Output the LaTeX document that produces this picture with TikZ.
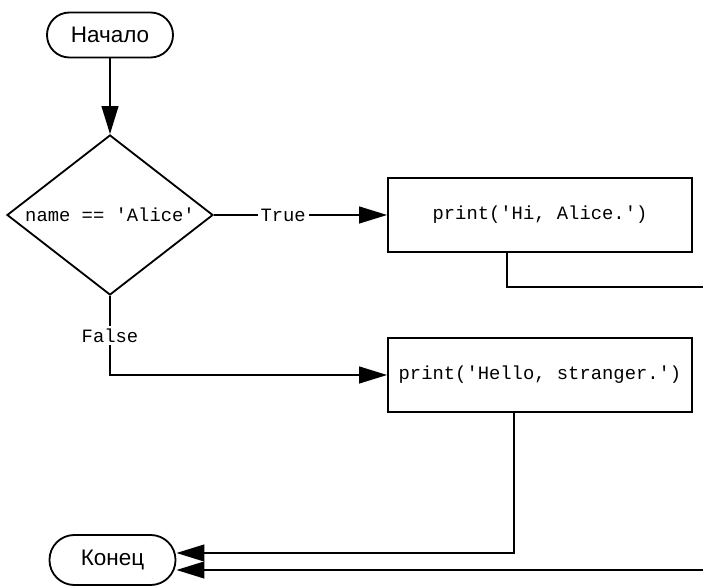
\documentclass[tikz,border=0pt]{standalone}
\usepackage{fontspec}
\setsansfont{Liberation Sans}
\setmonofont{Liberation Mono}
\usetikzlibrary{arrows.meta,shapes.geometric}
\begin{document}
\begin{tikzpicture}[
    term/.style={rectangle, draw, line width=1.3pt, minimum width=3.15cm, align=center, font=\sffamily\fontsize{16}{19}\selectfont},
    cond/.style={diamond, draw, line width=1.3pt, inner sep=0pt, aspect=1.2875, minimum width=5.15cm, minimum height=4cm, font=\ttfamily\fontsize{13.4}{16}\selectfont},
    box/.style={rectangle, draw, line width=1.3pt, minimum width=7.6cm, minimum height=1.85cm, align=center, font=\ttfamily\fontsize{13.4}{16}\selectfont},
    lbl/.style={fill=white, inner sep=2pt, font=\ttfamily\fontsize{13.4}{16}\selectfont},
    a/.style={-{Triangle[length=0.7cm,width=0.42cm]}, line width=1.3pt},
    l/.style={line width=1.3pt}
]
    \useasboundingbox (0,0) rectangle (17.575,-14.675);
    \node[term, minimum height=1.125cm, rounded corners=0.56cm] (start) at (2.75,-0.875) {Начало};
    \node[cond] (cond) at (2.75,-5.375) {name == 'Alice'};
    \node[box] (hi)    at (13.5,-5.375) {print('Hi, Alice.')};
    \node[box] (hello) at (13.5,-9.375) {print('Hello, stranger.')};
    \node[term, minimum height=1.25cm, rounded corners=0.62cm] (end) at (2.8125,-14.0) {Конец};
    \coordinate (hiout) at (17.575,-7.175);
    \coordinate (endin) at (17.575,-14.25);
    \draw[a] (start) -- (cond);
    \draw[a] (cond) -- node[lbl, pos=0.4]{True} (hi);
    \draw[a] (cond.south) |- node[lbl, pos=0.25]{False} (hello);
    \draw[l] ([xshift=-0.825cm]hi.south) |- (hiout);
    \draw[a] ([xshift=-0.65cm]hello.south) |- ([yshift=0.175cm]end.east);
    \draw[a] (endin) -- (end.east |- endin);
\end{tikzpicture}
\end{document}
